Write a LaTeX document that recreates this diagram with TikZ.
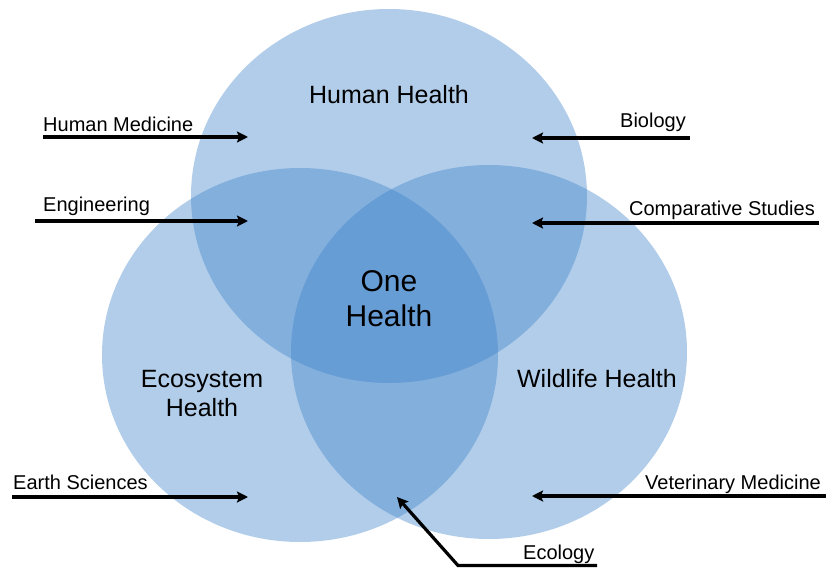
\documentclass[tikz,border=0pt]{standalone}
\usepackage{fontspec}
\setmainfont{Liberation Sans}
\usetikzlibrary{arrows.meta}
\definecolor{venn}{RGB}{61,130,202}
\tikzset{
  vset/.style={fill=venn, fill opacity=0.4, draw=none},
  bigtxt/.style={font=\fontsize{25}{29}\selectfont, align=center, inner sep=0pt},
  onetxt/.style={font=\fontsize{30}{35}\selectfont, align=center, inner sep=0pt},
  smalltxt/.style={font=\fontsize{20}{22}\selectfont, inner sep=0pt},
  feed/.style={line width=3.2pt, -{Stealth[length=11pt,width=11pt,inset=2pt]}}
}
\begin{document}
\begin{tikzpicture}[x=1pt,y=-1pt]
\useasboundingbox (0,0) rectangle (826,567);
% sets
\fill[vset] (389,196) ellipse [x radius=198, y radius=187];
\fill[vset] (300,355) ellipse [x radius=198, y radius=187];
\fill[vset] (489,352) ellipse [x radius=198, y radius=187];
% set labels
\node[bigtxt] (hh) at (389,95) {Human Health};
\node[onetxt] (oh) at (389,299) {One\\Health};
\node[bigtxt] (eh) at (202,394) {Ecosystem\\Health};
\node[bigtxt] (wh) at (597,379) {Wildlife Health};
% field labels
\node[smalltxt, anchor=base west] (hm) at (43,131) {Human Medicine};
\node[smalltxt, anchor=base west] (en) at (43,211) {Engineering};
\node[smalltxt, anchor=base east] (bi) at (686,127) {Biology};
\node[smalltxt, anchor=base east] (cs) at (815,215) {Comparative Studies};
\node[smalltxt, anchor=base west] (es) at (13,489) {Earth Sciences};
\node[smalltxt, anchor=base east] (vm) at (821,489) {Veterinary Medicine};
\node[smalltxt, anchor=base west] (ec) at (523,559) {Ecology};
% arrow end points
\coordinate (hm0) at (43,137);   \coordinate (hm1) at (248,137);
\coordinate (en0) at (35,221);   \coordinate (en1) at (248,221);
\coordinate (bi0) at (690,138);  \coordinate (bi1) at (532,138);
\coordinate (cs0) at (819,223);  \coordinate (cs1) at (532,223);
\coordinate (es0) at (12,497);   \coordinate (es1) at (248,497);
\coordinate (vm0) at (826,496);  \coordinate (vm1) at (532,496);
\coordinate (ec0) at (597,565.5);  \coordinate (ecm) at (458,565.5);
\coordinate (ec1) at (397,497);
% arrows
\draw[feed] (hm0) -- (hm1);
\draw[feed] (en0) -- (en1);
\draw[feed] (bi0) -- (bi1);
\draw[feed] (cs0) -- (cs1);
\draw[feed] (es0) -- (es1);
\draw[feed] (vm0) -- (vm1);
\draw[feed] (ec0) -- (ecm) -- (ec1);
\end{tikzpicture}
\end{document}
